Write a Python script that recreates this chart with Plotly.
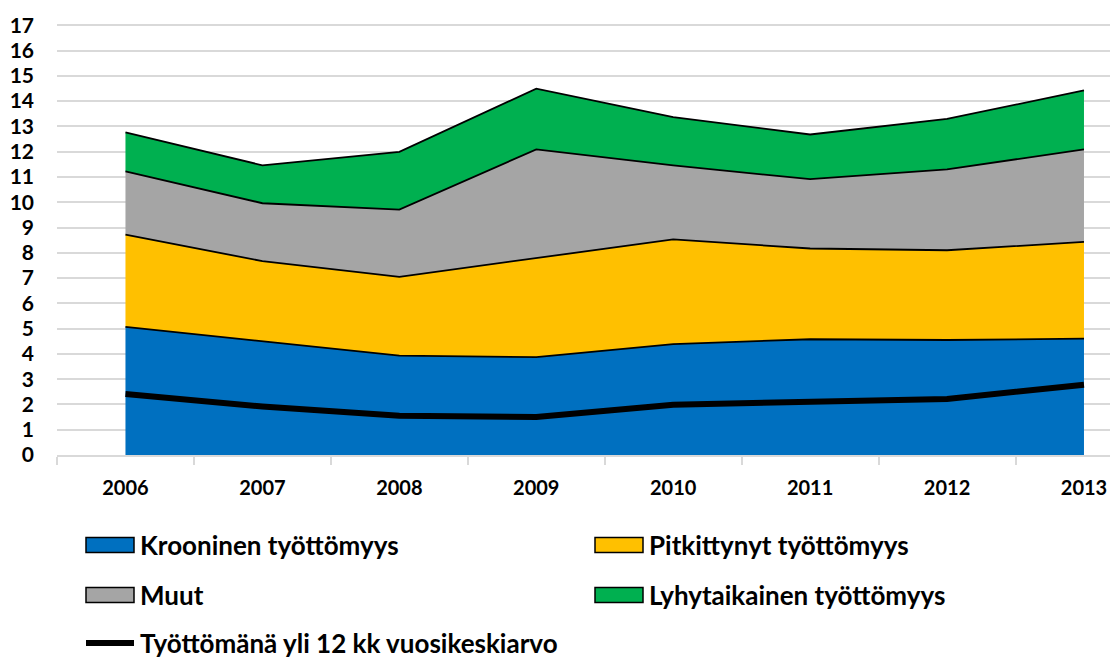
import plotly.graph_objects as go

years = ["2006", "2007", "2008", "2009", "2010", "2011", "2012", "2013"]

krooninen = [5.07, 4.49, 3.93, 3.87, 4.39, 4.58, 4.55, 4.60]
pitkittynyt = [3.65, 3.18, 3.12, 3.91, 4.14, 3.59, 3.55, 3.83]
muut = [2.50, 2.29, 2.66, 4.31, 2.93, 2.74, 3.20, 3.66]
lyhytaikainen = [1.54, 1.50, 2.28, 2.40, 1.91, 1.77, 2.00, 2.33]
yli12kk = [2.41, 1.92, 1.55, 1.50, 1.99, 2.12, 2.22, 2.78]

y_ticks = list(range(0, 19))

area_names = ["Krooninen työttömyys", "Pitkittynyt työttömyys", "Muut", "Lyhytaikainen työttömyys"]
area_values = [krooninen, pitkittynyt, muut, lyhytaikainen]
area_colors = ["#0070C0", "#FFC000", "#A5A5A5", "#00B050"]
line_name = "Työttömänä yli 12 kk vuosikeskiarvo"

FONT = "Lato, 'Open Sans', sans-serif"
W, H = 1110, 659

fig = go.Figure()

for name, vals, col in zip(area_names, area_values, area_colors):
    fig.add_trace(go.Scatter(
        x=years, y=vals, name=name, stackgroup="one", mode="lines",
        line=dict(color="black", width=1.8), fillcolor=col, showlegend=False,
    ))

fig.add_trace(go.Scatter(
    x=years, y=yli12kk, name=line_name,
    mode="lines", line=dict(color="black", width=6), showlegend=False,
))

# Manual legend (Excel-style): 2 columns x 3 rows
shapes = []
annotations = []
col_x = [86, 595]
row_y = [545, 595, 643]
for i, (name, col) in enumerate(zip(area_names, area_colors)):
    cx = col_x[i % 2]
    cy = row_y[i // 2]
    shapes.append(dict(
        type="rect", xref="paper", yref="paper",
        x0=(cx - 57) / (W - 57), x1=(cx + 48 - 57) / (W - 57),
        y0=(455 - (cy - 7.5)) / 455, y1=(455 - (cy + 7.5)) / 455,
        fillcolor=col, line=dict(color="black", width=1.5), layer="above",
    ))
    annotations.append(dict(
        xref="paper", yref="paper", x=(cx + 52 - 57) / (W - 57), y=(455 - cy) / 455,
        xanchor="left", yanchor="middle", showarrow=False, text=name,
        font=dict(family=FONT, size=26, color="black", weight="bold"),
    ))
cy = row_y[2]
shapes.append(dict(
    type="line", xref="paper", yref="paper",
    x0=(86 - 57) / (W - 57), x1=(134 - 57) / (W - 57),
    y0=(455 - cy) / 455, y1=(455 - cy) / 455,
    line=dict(color="black", width=6), layer="above",
))
annotations.append(dict(
    xref="paper", yref="paper", x=(138 - 57) / (W - 57), y=(455 - cy) / 455,
    xanchor="left", yanchor="middle", showarrow=False, text=line_name,
    font=dict(family=FONT, size=26, color="black", weight="bold"),
))

fig.update_layout(
    width=W, height=H,
    margin=dict(l=57, r=0, t=0, b=204, autoexpand=False),
    paper_bgcolor="white", plot_bgcolor="white",
    font=dict(family=FONT, color="black"),
    showlegend=False,
    shapes=shapes, annotations=annotations,
    xaxis=dict(
        type="category", range=[-0.5, 7.19], tickson="boundaries",
        ticks="outside", ticklen=8, tickcolor="#D9D9D9", tickwidth=1.5,
        showgrid=False, showline=True, linecolor="#D9D9D9", linewidth=1.5,
        tickfont=dict(family=FONT, size=20, color="black", weight="bold"),
        ticklabelstandoff=14, automargin=False,
    ),
    yaxis=dict(
        range=[0, 18], tickvals=y_ticks, showgrid=True, gridcolor="#D9D9D9",
        gridwidth=1.5, zeroline=False, showline=False,
        tickfont=dict(family=FONT, size=21, color="black", weight="bold"),
        ticklabelstandoff=22, automargin=False,
    ),
)

fig.write_html(
    "out.html",
    config={"displayModeBar": False},
    post_script="document.body.style.margin='0px';document.body.style.overflow='hidden';",
)
